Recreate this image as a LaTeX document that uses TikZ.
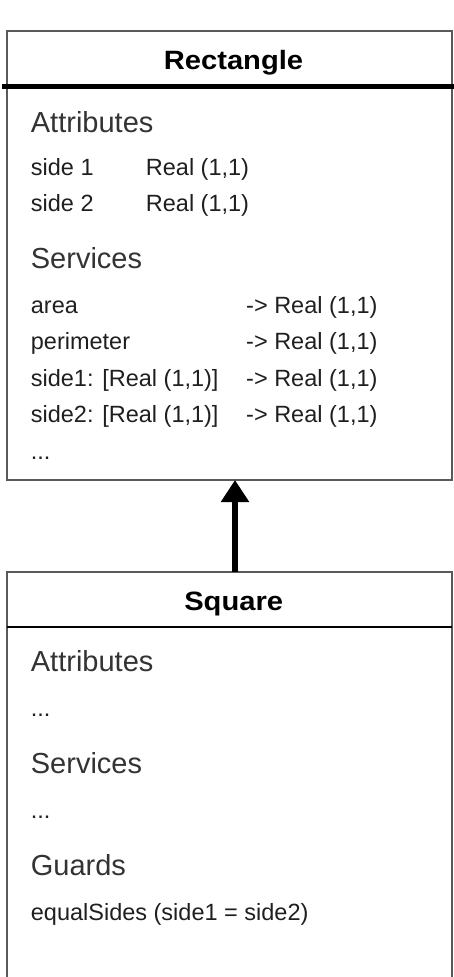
\documentclass[tikz,border=0pt]{standalone}
\usepackage{fontspec}
\setmainfont{Liberation Sans}
\usepackage{tikz}
\usetikzlibrary{arrows.meta, positioning}
\tikzset{
	tri/.tip={Triangle[width=27pt, length=22pt]},
	classbox/.style={draw=black!65, line width=2pt, inner sep=0pt, outer sep=0pt, anchor=north west},
	headline/.style={black, line width=#1},
	headline/.default=2.5pt,
	classname/.style={anchor=base, inner sep=0pt, font=\fontsize{26.5}{32}\selectfont\bfseries},
	section/.style={anchor=base west, inner sep=0pt, text=black!80, font=\fontsize{29}{34}\selectfont},
	entry/.style={anchor=base west, inner sep=0pt, text=black!88, font=\fontsize{23.5}{28}\selectfont},
}
\newcommand{\wide}[1]{\scalebox{1.1}[1]{#1}}

\begin{document}
\begin{tikzpicture}[x=1pt, y=-1pt]
	\useasboundingbox (0,0) rectangle (454,977);
	\clip (0,0) rectangle (454,977);

	% Rectangle class
	\node[classbox, minimum width=445pt, minimum height=449pt] (rect) at (7,31) {};
	\draw[headline=5pt] (2,86.7) -- (454,86.7);
	\node[classname] (rectname) at (233.5,69) {\wide{Rectangle}};

	\node[section] (rectattr) at (30.7,132) {Attributes};
	\node[entry] (side1) at (30.7,175.7) {side 1};
	\node[entry] (side1type) at (145.7,175.7) {Real (1,1)};
	\node[entry] (side2) at (30.7,211.7) {side 2};
	\node[entry] (side2type) at (145.7,211.7) {Real (1,1)};

	\node[section] (rectserv) at (30.7,268.3) {Services};
	\node[entry] (area) at (30.7,313.3) {area};
	\node[entry] (areatype) at (246,313.3) {-> Real (1,1)};
	\node[entry] (perim) at (30.7,349.6) {perimeter};
	\node[entry] (perimtype) at (246,349.6) {-> Real (1,1)};
	\node[entry] (setside1) at (30.7,386) {side1: [Real (1,1)]};
	\node[entry] (setside1type) at (246,386) {-> Real (1,1)};
	\node[entry] (setside2) at (30.7,422.6) {side2: [Real (1,1)]};
	\node[entry] (setside2type) at (246,422.6) {-> Real (1,1)};
	\node[entry] (rectmore) at (30.7,459) {...};

	% Square class
	\node[classbox, minimum width=445pt, minimum height=440pt] (sq) at (7,572) {};
	\draw[headline] (7,627) -- (452,627);
	\node[classname] (sqname) at (233.7,610.7) {\wide{Square}};

	\node[section] (sqattr) at (30.7,671.7) {Attributes};
	\node[entry] (sqattrmore) at (30.7,716) {...};
	\node[section] (sqserv) at (30.7,773.3) {Services};
	\node[entry] (sqservmore) at (30.7,818.3) {...};
	\node[section] (sqguards) at (30.7,875) {Guards};
	\node[entry] (equal) at (30.7,920) {equalSides (side1 = side2)};

	% Inheritance
	\draw[-tri, line width=5.5pt] (sq.north -| 235,0) -- (rect.south -| 235,0);
\end{tikzpicture}
\end{document}
